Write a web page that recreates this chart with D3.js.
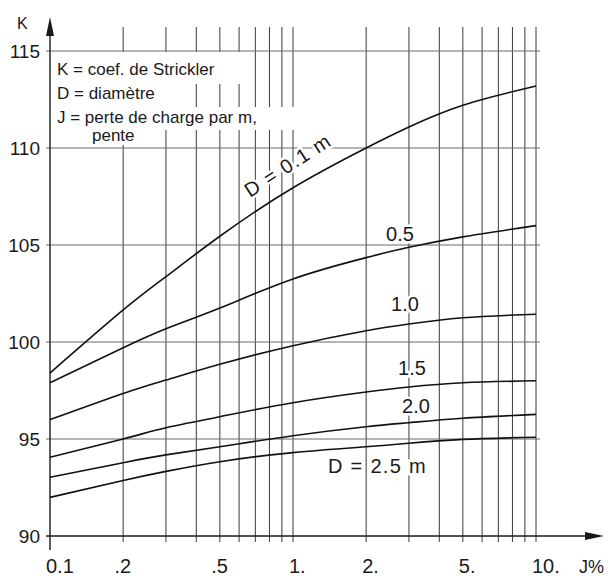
<!DOCTYPE html>
<html>
<head>
<meta charset="utf-8">
<script src="https://cdn.jsdelivr.net/npm/d3@7"></script>
<style>
  html, body { margin: 0; padding: 0; background: #fff; }
  svg { display: block; }
  text { font-family: "Liberation Sans", Arial, sans-serif; fill: #1a1a1a; }
</style>
</head>
<body>
<svg id="chart"></svg>
<script>
// slope J in %, log scale
const slopes = [0.1, 0.2, 0.3, 0.5, 1, 2, 3, 5, 10];

// Strickler K for each pipe diameter
const k_d01 = [98.4, 101.65, 103.37, 105.45, 107.95, 110.0, 111.08, 112.2, 113.2];
const k_d05 = [97.9, 99.7, 100.68, 101.75, 103.25, 104.35, 104.88, 105.42, 106.0];
const k_d10 = [96.0, 97.35, 98.04, 98.85, 99.81, 100.58, 100.93, 101.25, 101.43];
const k_d15 = [94.06, 95.0, 95.58, 96.15, 96.87, 97.42, 97.68, 97.9, 98.0];
const k_d20 = [93.03, 93.78, 94.18, 94.6, 95.17, 95.63, 95.84, 96.07, 96.27];
const k_d25 = [91.99, 92.86, 93.33, 93.83, 94.3, 94.6, 94.78, 94.98, 95.09];

const series = [k_d01, k_d05, k_d10, k_d15, k_d20, k_d25];

const gridJ = [0.2, 0.3, 0.4, 0.5, 0.6, 0.7, 0.8, 0.9, 1, 2, 3, 4, 5, 6, 7, 8, 9, 10];
const xTickVals = [0.1, 0.2, 0.5, 1, 2, 5, 10];
const xTickLabels = ["0.1", ".2", ".5", "1.", "2.", "5.", "10."];
const yTickVals = [90, 95, 100, 105, 110, 115];

const legendLines = ["K = coef. de Strickler", "D = diamètre", "J = perte de charge par m,", "pente"];

(() => {
  const width = 612, height = 576;
  const svg = d3.select("#chart").attr("width", width).attr("height", height);

  const x = d3.scaleLog().domain([0.1, 10]).range([50, 536]);
  const y = d3.scaleLinear().domain([90, 115]).range([536, 51]);

  const grid = svg.append("g");

  // vertical grid
  grid.selectAll("line.v")
    .data(gridJ)
    .join("line")
    .attr("class", "v")
    .attr("x1", d => x(d)).attr("x2", d => x(d))
    .attr("y1", 27).attr("y2", 542)
    .attr("stroke", "#3a3a3a")
    .attr("stroke-width", 1);

  // horizontal grid (90 is the axis itself)
  grid.selectAll("line.h")
    .data(yTickVals.filter(d => d > 90))
    .join("line")
    .attr("class", "h")
    .attr("x1", 46).attr("x2", 540)
    .attr("y1", d => y(d)).attr("y2", d => y(d))
    .attr("stroke", "#6a6a6a")
    .attr("stroke-width", 1);

  // axes with arrows
  svg.append("line")
    .attr("x1", x(0.1)).attr("x2", x(0.1))
    .attr("y1", 550).attr("y2", 30)
    .attr("stroke", "#1a1a1a").attr("stroke-width", 1.4);
  svg.append("path")
    .attr("d", `M${x(0.1)},17 L${x(0.1) - 4},36 L${x(0.1) + 4},36 Z`)
    .attr("fill", "#1a1a1a");

  svg.append("line")
    .attr("x1", 46).attr("x2", 590)
    .attr("y1", y(90)).attr("y2", y(90))
    .attr("stroke", "#1a1a1a").attr("stroke-width", 1.4);
  svg.append("path")
    .attr("d", `M604,${y(90)} L585,${y(90) - 4} L585,${y(90) + 4} Z`)
    .attr("fill", "#1a1a1a");

  // tick labels
  svg.selectAll("text.yt")
    .data(yTickVals)
    .join("text")
    .attr("class", "yt")
    .attr("x", 40)
    .attr("y", d => y(d) + 7)
    .attr("text-anchor", "end")
    .attr("font-size", 19)
    .text(d => d);

  svg.selectAll("text.xt")
    .data(xTickVals)
    .join("text")
    .attr("class", "xt")
    .attr("x", (d, i) => xTickLabels[i].startsWith(".") ? x(d) + 8 : x(d) - 4)
    .attr("y", 573)
    .attr("text-anchor", (d, i) => xTickLabels[i].startsWith(".") ? "end" : "start")
    .attr("font-size", 20)
    .text((d, i) => xTickLabels[i]);

  svg.append("text").attr("x", 17).attr("y", 29).attr("font-size", 16).text("K");
  svg.append("text").attr("x", 579).attr("y", 573).attr("font-size", 18).text("J%");

  // legend box, knocks out the grid behind each line
  const legendRects = [[54, 52, 192, 32], [54, 84, 120, 23], [54, 107, 272, 23], [88, 130, 60, 15]];
  svg.selectAll("rect.lg")
    .data(legendRects)
    .join("rect")
    .attr("class", "lg")
    .attr("x", d => d[0]).attr("y", d => d[1])
    .attr("width", d => d[2]).attr("height", d => d[3])
    .attr("fill", "#fff");

  svg.selectAll("text.lg")
    .data(legendLines)
    .join("text")
    .attr("class", "lg")
    .attr("x", (d, i) => i === 3 ? 92 : 57)
    .attr("y", (d, i) => [75, 99, 123, 141][i])
    .attr("font-size", 17)
    .attr("xml:space", "preserve")
    .text(d => d);

  // curves
  const line = d3.line()
    .x((d, i) => x(slopes[i]))
    .y(d => y(d))
    .curve(d3.curveNatural);

  svg.selectAll("path.curve")
    .data(series)
    .join("path")
    .attr("class", "curve")
    .attr("d", line)
    .attr("fill", "none")
    .attr("stroke", "#111")
    .attr("stroke-width", 1.6);

  // curve labels with white halo
  const labels = [
    { t: "D = 0.1 m", x: 250, y: 198, r: -33 },
    { t: "0.5", x: 400, y: 241, r: 0, mid: true },
    { t: "1.0", x: 405, y: 311, r: 0, mid: true },
    { t: "1.5", x: 412, y: 375, r: 0, mid: true },
    { t: "2.0", x: 416, y: 413, r: 0, mid: true },
    { t: "D = 2.5 m", x: 328, y: 473, r: 0 }
  ];

  svg.selectAll("text.cl")
    .data(labels)
    .join("text")
    .attr("class", "cl")
    .attr("transform", d => `translate(${d.x},${d.y}) rotate(${d.r})`)
    .attr("text-anchor", d => d.mid ? "middle" : "start")
    .attr("font-size", 20)
    .attr("letter-spacing", d => d.mid ? 0 : 1.3)
    .attr("stroke", "#fff")
    .attr("stroke-width", 5)
    .attr("paint-order", "stroke")
    .text(d => d.t);
})();
</script>
</body>
</html>
